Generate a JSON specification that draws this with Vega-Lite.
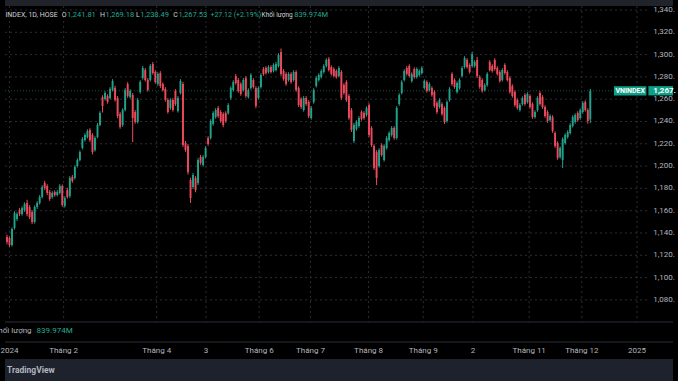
{
"$schema": "https://vega.github.io/schema/vega-lite/v6.json",
"width": 678, "height": 381, "padding": 0, "autosize": {"type": "none"},
"background": "#000000",
"config": {"view": {"stroke": null}, "axis": {"disable": true}, "text": {"font": "Roboto"}},
"data": {"values": [{}]},
"datasets": {
"candles": [
{"i":0,"o":1136.4,"h":1138.5,"l":1129.8,"c":1131.9},
{"i":1,"o":1135.5,"h":1137.0,"l":1127.5,"c":1129.2},
{"i":2,"o":1129.2,"h":1145.0,"l":1127.8,"c":1143.6},
{"i":3,"o":1144.5,"h":1159.5,"l":1143.0,"c":1157.9},
{"i":4,"o":1152.6,"h":1158.6,"l":1150.8,"c":1157.0},
{"i":5,"o":1160.6,"h":1162.5,"l":1155.2,"c":1157.0},
{"i":6,"o":1157.0,"h":1164.0,"l":1155.5,"c":1162.4},
{"i":7,"o":1160.6,"h":1167.5,"l":1159.0,"c":1166.0},
{"i":8,"o":1166.9,"h":1169.8,"l":1155.0,"c":1157.0},
{"i":9,"o":1163.3,"h":1165.0,"l":1152.5,"c":1154.3},
{"i":10,"o":1158.8,"h":1160.5,"l":1148.0,"c":1149.9},
{"i":11,"o":1149.9,"h":1164.8,"l":1148.5,"c":1163.3},
{"i":12,"o":1163.3,"h":1168.5,"l":1161.5,"c":1166.9},
{"i":13,"o":1166.9,"h":1174.0,"l":1165.5,"c":1172.3},
{"i":14,"o":1172.3,"h":1183.0,"l":1171.0,"c":1181.2},
{"i":15,"o":1184.8,"h":1186.8,"l":1178.5,"c":1180.4},
{"i":16,"o":1182.1,"h":1183.8,"l":1174.0,"c":1175.9},
{"i":17,"o":1176.8,"h":1178.5,"l":1168.8,"c":1170.5},
{"i":18,"o":1172.3,"h":1177.5,"l":1170.8,"c":1175.9},
{"i":19,"o":1176.8,"h":1178.3,"l":1172.5,"c":1174.1},
{"i":20,"o":1174.1,"h":1178.5,"l":1172.8,"c":1176.8},
{"i":21,"o":1175.9,"h":1183.8,"l":1174.5,"c":1182.1},
{"i":22,"o":1182.1,"h":1183.5,"l":1163.5,"c":1165.1},
{"i":23,"o":1164.2,"h":1173.0,"l":1162.8,"c":1171.4},
{"i":24,"o":1178.6,"h":1180.5,"l":1170.8,"c":1172.3},
{"i":25,"o":1173.2,"h":1191.0,"l":1171.5,"c":1189.3},
{"i":26,"o":1190.2,"h":1192.0,"l":1185.0,"c":1186.6},
{"i":27,"o":1189.3,"h":1200.8,"l":1188.0,"c":1199.2},
{"i":28,"o":1200.1,"h":1207.0,"l":1198.8,"c":1205.5},
{"i":29,"o":1205.5,"h":1214.0,"l":1204.2,"c":1212.6},
{"i":30,"o":1216.2,"h":1226.0,"l":1215.0,"c":1224.3},
{"i":31,"o":1223.4,"h":1229.5,"l":1222.0,"c":1227.9},
{"i":32,"o":1226.1,"h":1233.0,"l":1224.8,"c":1231.5},
{"i":33,"o":1232.4,"h":1234.0,"l":1221.5,"c":1223.4},
{"i":34,"o":1227.9,"h":1229.5,"l":1210.5,"c":1212.6},
{"i":35,"o":1214.4,"h":1226.8,"l":1213.0,"c":1225.2},
{"i":36,"o":1226.1,"h":1238.5,"l":1225.0,"c":1236.9},
{"i":37,"o":1236.9,"h":1249.2,"l":1235.8,"c":1247.6},
{"i":38,"o":1262.0,"h":1263.5,"l":1248.0,"c":1253.9},
{"i":39,"o":1260.2,"h":1267.2,"l":1258.8,"c":1265.6},
{"i":40,"o":1262.9,"h":1264.5,"l":1256.0,"c":1257.5},
{"i":41,"o":1261.1,"h":1270.8,"l":1259.8,"c":1269.2},
{"i":42,"o":1268.2,"h":1278.0,"l":1267.0,"c":1276.3},
{"i":43,"o":1270.0,"h":1272.0,"l":1257.8,"c":1259.3},
{"i":44,"o":1261.1,"h":1262.8,"l":1243.0,"c":1244.9},
{"i":45,"o":1246.7,"h":1248.5,"l":1233.5,"c":1235.1},
{"i":46,"o":1236.9,"h":1251.8,"l":1235.2,"c":1250.3},
{"i":47,"o":1250.3,"h":1270.0,"l":1249.0,"c":1268.2},
{"i":48,"o":1273.6,"h":1275.3,"l":1261.2,"c":1262.9},
{"i":49,"o":1262.0,"h":1269.0,"l":1260.5,"c":1267.4},
{"i":50,"o":1263.8,"h":1265.5,"l":1221.6,"c":1243.1},
{"i":51,"o":1248.5,"h":1250.2,"l":1238.0,"c":1239.6},
{"i":52,"o":1239.6,"h":1261.0,"l":1238.2,"c":1259.3},
{"i":53,"o":1266.5,"h":1277.0,"l":1265.0,"c":1275.4},
{"i":54,"o":1279.0,"h":1289.8,"l":1277.5,"c":1288.0},
{"i":55,"o":1286.2,"h":1288.0,"l":1275.8,"c":1277.2},
{"i":56,"o":1277.2,"h":1279.0,"l":1266.8,"c":1268.2},
{"i":57,"o":1277.2,"h":1291.5,"l":1275.8,"c":1289.8},
{"i":58,"o":1291.6,"h":1293.4,"l":1282.0,"c":1283.5},
{"i":59,"o":1284.4,"h":1286.0,"l":1273.8,"c":1275.4},
{"i":60,"o":1273.6,"h":1284.2,"l":1272.0,"c":1282.6},
{"i":61,"o":1283.5,"h":1285.2,"l":1270.0,"c":1271.8},
{"i":62,"o":1273.6,"h":1275.0,"l":1266.8,"c":1268.2},
{"i":63,"o":1269.2,"h":1270.8,"l":1257.8,"c":1259.3},
{"i":64,"o":1259.3,"h":1261.0,"l":1247.0,"c":1248.5},
{"i":65,"o":1252.1,"h":1260.8,"l":1250.5,"c":1259.3},
{"i":66,"o":1259.3,"h":1261.0,"l":1248.8,"c":1250.3},
{"i":67,"o":1267.4,"h":1269.0,"l":1254.0,"c":1255.7},
{"i":68,"o":1249.4,"h":1262.8,"l":1248.0,"c":1261.1},
{"i":69,"o":1265.6,"h":1278.0,"l":1264.2,"c":1276.3},
{"i":70,"o":1273.6,"h":1275.5,"l":1217.0,"c":1218.9},
{"i":71,"o":1220.7,"h":1222.5,"l":1212.8,"c":1214.4},
{"i":72,"o":1218.0,"h":1219.8,"l":1192.5,"c":1194.7},
{"i":73,"o":1187.5,"h":1189.5,"l":1166.9,"c":1171.4},
{"i":74,"o":1181.2,"h":1193.8,"l":1179.5,"c":1192.0},
{"i":75,"o":1189.3,"h":1191.0,"l":1176.5,"c":1178.6},
{"i":76,"o":1184.8,"h":1207.2,"l":1183.0,"c":1205.5},
{"i":77,"o":1208.2,"h":1210.0,"l":1201.2,"c":1202.8},
{"i":78,"o":1201.0,"h":1209.8,"l":1199.5,"c":1208.2},
{"i":79,"o":1208.2,"h":1217.8,"l":1206.8,"c":1216.2},
{"i":80,"o":1225.2,"h":1226.8,"l":1218.2,"c":1219.8},
{"i":81,"o":1225.2,"h":1242.0,"l":1223.8,"c":1240.4},
{"i":82,"o":1237.8,"h":1249.2,"l":1236.2,"c":1247.6},
{"i":83,"o":1244.0,"h":1252.0,"l":1242.5,"c":1250.3},
{"i":84,"o":1252.1,"h":1254.0,"l":1243.2,"c":1244.9},
{"i":85,"o":1248.5,"h":1250.2,"l":1238.8,"c":1240.4},
{"i":86,"o":1246.7,"h":1248.3,"l":1234.8,"c":1236.9},
{"i":87,"o":1247.6,"h":1249.2,"l":1238.8,"c":1240.4},
{"i":88,"o":1247.6,"h":1256.4,"l":1246.0,"c":1254.8},
{"i":89,"o":1261.1,"h":1271.6,"l":1259.5,"c":1270.0},
{"i":90,"o":1268.2,"h":1277.0,"l":1266.8,"c":1275.4},
{"i":91,"o":1280.8,"h":1282.5,"l":1273.0,"c":1274.5},
{"i":92,"o":1277.2,"h":1279.0,"l":1265.8,"c":1267.4},
{"i":93,"o":1273.6,"h":1275.2,"l":1263.0,"c":1264.7},
{"i":94,"o":1268.2,"h":1279.0,"l":1266.8,"c":1277.2},
{"i":95,"o":1279.0,"h":1280.8,"l":1261.2,"c":1262.9},
{"i":96,"o":1262.0,"h":1269.8,"l":1260.5,"c":1268.2},
{"i":97,"o":1270.0,"h":1283.3,"l":1268.5,"c":1281.7},
{"i":98,"o":1277.2,"h":1278.8,"l":1269.5,"c":1270.9},
{"i":99,"o":1270.0,"h":1271.6,"l":1252.0,"c":1253.9},
{"i":100,"o":1261.1,"h":1271.5,"l":1259.6,"c":1270.0},
{"i":101,"o":1270.9,"h":1283.2,"l":1269.5,"c":1281.7},
{"i":102,"o":1287.1,"h":1288.8,"l":1281.0,"c":1282.6},
{"i":103,"o":1288.0,"h":1289.6,"l":1282.0,"c":1283.5},
{"i":104,"o":1284.4,"h":1290.5,"l":1283.0,"c":1288.9},
{"i":105,"o":1288.9,"h":1290.4,"l":1283.0,"c":1284.4},
{"i":106,"o":1285.3,"h":1292.2,"l":1284.0,"c":1290.7},
{"i":107,"o":1286.2,"h":1293.4,"l":1284.8,"c":1291.6},
{"i":108,"o":1289.8,"h":1301.2,"l":1288.4,"c":1299.6},
{"i":109,"o":1302.3,"h":1305.5,"l":1281.0,"c":1282.6},
{"i":110,"o":1285.3,"h":1287.0,"l":1276.6,"c":1278.1},
{"i":111,"o":1282.6,"h":1284.2,"l":1272.0,"c":1273.6},
{"i":112,"o":1277.2,"h":1284.2,"l":1275.8,"c":1282.6},
{"i":113,"o":1282.6,"h":1284.2,"l":1273.8,"c":1275.4},
{"i":114,"o":1277.2,"h":1286.0,"l":1275.8,"c":1284.4},
{"i":115,"o":1284.4,"h":1286.0,"l":1266.6,"c":1268.2},
{"i":116,"o":1270.0,"h":1271.6,"l":1253.0,"c":1254.8},
{"i":117,"o":1260.2,"h":1261.8,"l":1251.2,"c":1253.0},
{"i":118,"o":1250.3,"h":1262.8,"l":1248.8,"c":1261.1},
{"i":119,"o":1261.1,"h":1262.8,"l":1254.0,"c":1255.7},
{"i":120,"o":1257.5,"h":1259.2,"l":1243.0,"c":1244.9},
{"i":121,"o":1243.1,"h":1253.8,"l":1241.6,"c":1252.1},
{"i":122,"o":1257.5,"h":1269.8,"l":1256.0,"c":1268.2},
{"i":123,"o":1271.8,"h":1280.6,"l":1270.4,"c":1279.0},
{"i":124,"o":1277.2,"h":1283.2,"l":1275.8,"c":1281.7},
{"i":125,"o":1279.9,"h":1286.8,"l":1278.5,"c":1285.3},
{"i":126,"o":1284.4,"h":1291.4,"l":1283.0,"c":1289.8},
{"i":127,"o":1289.8,"h":1296.8,"l":1288.4,"c":1295.2},
{"i":128,"o":1296.1,"h":1297.8,"l":1284.8,"c":1286.2},
{"i":129,"o":1288.9,"h":1290.4,"l":1281.2,"c":1282.6},
{"i":130,"o":1287.1,"h":1288.6,"l":1279.4,"c":1280.8},
{"i":131,"o":1285.3,"h":1286.8,"l":1278.4,"c":1279.9},
{"i":132,"o":1280.8,"h":1289.6,"l":1279.4,"c":1288.0},
{"i":133,"o":1284.4,"h":1286.0,"l":1259.5,"c":1261.1},
{"i":134,"o":1272.7,"h":1274.4,"l":1264.0,"c":1265.6},
{"i":135,"o":1275.4,"h":1277.0,"l":1257.6,"c":1259.3},
{"i":136,"o":1262.9,"h":1264.6,"l":1241.5,"c":1243.1},
{"i":137,"o":1250.3,"h":1252.0,"l":1230.6,"c":1232.4},
{"i":138,"o":1222.5,"h":1238.6,"l":1220.6,"c":1236.9},
{"i":139,"o":1233.3,"h":1241.2,"l":1231.8,"c":1239.6},
{"i":140,"o":1236.0,"h":1244.8,"l":1234.5,"c":1243.1},
{"i":141,"o":1248.5,"h":1250.0,"l":1240.8,"c":1242.2},
{"i":142,"o":1247.6,"h":1249.2,"l":1241.6,"c":1243.1},
{"i":143,"o":1245.8,"h":1253.6,"l":1244.4,"c":1252.1},
{"i":144,"o":1254.8,"h":1256.4,"l":1226.0,"c":1227.9},
{"i":145,"o":1234.2,"h":1235.8,"l":1217.2,"c":1218.9},
{"i":146,"o":1218.0,"h":1219.6,"l":1196.5,"c":1198.3},
{"i":147,"o":1212.6,"h":1214.2,"l":1183.0,"c":1189.3},
{"i":148,"o":1200.1,"h":1216.0,"l":1198.6,"c":1214.4},
{"i":149,"o":1218.9,"h":1220.4,"l":1208.4,"c":1209.9},
{"i":150,"o":1205.5,"h":1219.6,"l":1204.0,"c":1218.0},
{"i":151,"o":1216.2,"h":1226.8,"l":1214.8,"c":1225.2},
{"i":152,"o":1223.4,"h":1231.2,"l":1222.0,"c":1229.7},
{"i":153,"o":1227.9,"h":1235.8,"l":1226.4,"c":1234.2},
{"i":154,"o":1234.2,"h":1235.8,"l":1223.6,"c":1225.2},
{"i":155,"o":1225.2,"h":1253.8,"l":1223.8,"c":1252.1},
{"i":156,"o":1255.7,"h":1265.4,"l":1254.2,"c":1263.8},
{"i":157,"o":1265.6,"h":1277.0,"l":1264.2,"c":1275.4},
{"i":158,"o":1277.2,"h":1286.8,"l":1275.8,"c":1285.3},
{"i":159,"o":1288.0,"h":1289.6,"l":1281.2,"c":1282.6},
{"i":160,"o":1289.8,"h":1291.4,"l":1279.4,"c":1280.8},
{"i":161,"o":1276.3,"h":1284.2,"l":1274.8,"c":1282.6},
{"i":162,"o":1287.1,"h":1288.6,"l":1278.4,"c":1279.9},
{"i":163,"o":1279.9,"h":1288.6,"l":1278.4,"c":1287.1},
{"i":164,"o":1281.7,"h":1286.8,"l":1280.2,"c":1285.3},
{"i":165,"o":1283.5,"h":1289.6,"l":1282.0,"c":1288.0},
{"i":166,"o":1270.0,"h":1277.8,"l":1268.6,"c":1276.3},
{"i":167,"o":1275.4,"h":1277.0,"l":1265.8,"c":1267.4},
{"i":168,"o":1268.2,"h":1275.2,"l":1266.8,"c":1273.6},
{"i":169,"o":1270.0,"h":1271.6,"l":1262.2,"c":1263.8},
{"i":170,"o":1266.5,"h":1268.0,"l":1252.2,"c":1253.9},
{"i":171,"o":1256.6,"h":1258.2,"l":1246.8,"c":1248.5},
{"i":172,"o":1253.0,"h":1260.8,"l":1251.6,"c":1259.3},
{"i":173,"o":1255.7,"h":1257.2,"l":1245.2,"c":1246.7},
{"i":174,"o":1252.1,"h":1253.6,"l":1237.8,"c":1239.6},
{"i":175,"o":1240.4,"h":1259.0,"l":1239.0,"c":1257.5},
{"i":176,"o":1259.3,"h":1270.8,"l":1257.8,"c":1269.2},
{"i":177,"o":1282.6,"h":1284.2,"l":1272.0,"c":1273.6},
{"i":178,"o":1277.2,"h":1278.8,"l":1269.4,"c":1270.9},
{"i":179,"o":1266.5,"h":1276.0,"l":1265.0,"c":1274.5},
{"i":180,"o":1270.0,"h":1278.8,"l":1268.5,"c":1277.2},
{"i":181,"o":1280.8,"h":1289.6,"l":1279.4,"c":1288.0},
{"i":182,"o":1288.9,"h":1298.6,"l":1287.4,"c":1297.0},
{"i":183,"o":1295.2,"h":1296.8,"l":1287.4,"c":1288.9},
{"i":184,"o":1290.7,"h":1292.2,"l":1283.0,"c":1284.4},
{"i":185,"o":1289.8,"h":1302.4,"l":1288.4,"c":1300.5},
{"i":186,"o":1289.8,"h":1295.0,"l":1288.4,"c":1293.4},
{"i":187,"o":1295.2,"h":1298.0,"l":1279.0,"c":1280.8},
{"i":188,"o":1279.9,"h":1281.4,"l":1269.4,"c":1270.9},
{"i":189,"o":1277.2,"h":1278.8,"l":1265.8,"c":1267.4},
{"i":190,"o":1268.2,"h":1274.2,"l":1266.8,"c":1272.7},
{"i":191,"o":1272.7,"h":1284.2,"l":1271.2,"c":1282.6},
{"i":192,"o":1293.4,"h":1295.0,"l":1284.8,"c":1286.2},
{"i":193,"o":1289.8,"h":1291.4,"l":1283.8,"c":1285.3},
{"i":194,"o":1295.2,"h":1296.8,"l":1285.6,"c":1287.1},
{"i":195,"o":1288.0,"h":1289.6,"l":1281.2,"c":1282.6},
{"i":196,"o":1284.4,"h":1286.0,"l":1274.8,"c":1276.3},
{"i":197,"o":1277.2,"h":1287.8,"l":1275.8,"c":1286.2},
{"i":198,"o":1290.7,"h":1292.2,"l":1282.0,"c":1283.5},
{"i":199,"o":1284.4,"h":1286.0,"l":1275.8,"c":1277.2},
{"i":200,"o":1279.0,"h":1280.6,"l":1265.0,"c":1266.5},
{"i":201,"o":1271.8,"h":1273.4,"l":1261.4,"c":1262.9},
{"i":202,"o":1266.5,"h":1268.0,"l":1253.2,"c":1254.8},
{"i":203,"o":1259.3,"h":1260.8,"l":1250.6,"c":1252.1},
{"i":204,"o":1250.3,"h":1256.4,"l":1248.8,"c":1254.8},
{"i":205,"o":1255.7,"h":1262.6,"l":1254.2,"c":1261.1},
{"i":206,"o":1263.8,"h":1265.4,"l":1254.2,"c":1255.7},
{"i":207,"o":1257.5,"h":1266.2,"l":1256.0,"c":1264.7},
{"i":208,"o":1262.9,"h":1264.4,"l":1251.4,"c":1253.0},
{"i":209,"o":1255.7,"h":1257.2,"l":1242.4,"c":1244.0},
{"i":210,"o":1244.0,"h":1250.0,"l":1242.6,"c":1248.5},
{"i":211,"o":1250.3,"h":1262.6,"l":1248.8,"c":1261.1},
{"i":212,"o":1265.6,"h":1267.2,"l":1254.2,"c":1255.7},
{"i":213,"o":1262.0,"h":1263.6,"l":1251.4,"c":1253.0},
{"i":214,"o":1253.0,"h":1254.6,"l":1243.4,"c":1244.9},
{"i":215,"o":1248.5,"h":1250.0,"l":1238.8,"c":1240.4},
{"i":216,"o":1241.3,"h":1246.4,"l":1239.8,"c":1244.9},
{"i":217,"o":1244.0,"h":1245.6,"l":1229.8,"c":1231.5},
{"i":218,"o":1229.7,"h":1231.2,"l":1216.4,"c":1218.0},
{"i":219,"o":1220.7,"h":1222.2,"l":1205.6,"c":1207.3},
{"i":220,"o":1208.2,"h":1217.8,"l":1206.6,"c":1216.2},
{"i":221,"o":1205.5,"h":1225.8,"l":1198.3,"c":1224.3},
{"i":222,"o":1220.7,"h":1229.4,"l":1219.2,"c":1227.9},
{"i":223,"o":1226.1,"h":1232.2,"l":1224.6,"c":1230.6},
{"i":224,"o":1229.7,"h":1238.4,"l":1228.2,"c":1236.9},
{"i":225,"o":1236.0,"h":1245.6,"l":1234.6,"c":1244.0},
{"i":226,"o":1239.6,"h":1247.4,"l":1238.0,"c":1245.8},
{"i":227,"o":1247.6,"h":1249.2,"l":1239.8,"c":1241.3},
{"i":228,"o":1243.1,"h":1251.8,"l":1241.6,"c":1250.3},
{"i":229,"o":1248.5,"h":1258.2,"l":1247.0,"c":1256.6},
{"i":230,"o":1257.5,"h":1259.0,"l":1248.8,"c":1250.3},
{"i":231,"o":1250.3,"h":1251.8,"l":1238.0,"c":1240.41},
{"i":232,"o":1241.81,"h":1269.18,"l":1238.49,"c":1267.53}
],
"levels": [
{"lv":1340,"lbl":"1,340."},{"lv":1320,"lbl":"1,320."},{"lv":1300,"lbl":"1,300."},{"lv":1280,"lbl":"1,280."},
{"lv":1260,"lbl":"1,260."},{"lv":1240,"lbl":"1,240."},{"lv":1220,"lbl":"1,220."},{"lv":1200,"lbl":"1,200."},
{"lv":1180,"lbl":"1,180."},{"lv":1160,"lbl":"1,160."},{"lv":1140,"lbl":"1,140."},{"lv":1120,"lbl":"1,120."},
{"lv":1100,"lbl":"1,100."},{"lv":1080,"lbl":"1,080."}
],
"times": [
{"t":"2024","i":0.98},{"t":"Tháng 2","i":22.53},{"t":"Tháng 4","i":59.56},{"t":"3","i":79.15},
{"t":"Tháng 6","i":100.31},{"t":"Tháng 7","i":120.69},{"t":"Tháng 8","i":143.81},{"t":"Tháng 9","i":165.56},
{"t":"2","i":185.34},{"t":"Tháng 11","i":207.68},{"t":"Tháng 12","i":228.64},{"t":"2025","i":250.59}
]
},
"layer": [
{"data": {"name": "candles"},
 "mark": {"type": "rule", "strokeWidth": 1, "opacity": 0},
 "encoding": {
  "x": {"field": "i", "type": "quantitative", "scale": {"domain": [-0.784, 264.89], "nice": false, "zero": false}},
  "y": {"field": "l", "type": "quantitative", "scale": {"domain": [1007.25, 1348.97], "nice": false, "zero": false}},
  "y2": {"field": "h"}
 }},
{"mark": {"type": "rect", "color": "#202329"},
 "encoding": {"x": {"datum": -0.784}, "x2": {"datum": 264.89}, "y": {"datum": 1348.97}, "y2": {"datum": 1343.6}}},
{"data": {"name": "levels"},
 "mark": {"type": "rule", "color": "#2a2d35", "strokeWidth": 1, "strokeDash": [2, 3]},
 "encoding": {"y": {"field": "lv", "type": "quantitative"}, "x": {"datum": -0.784}, "x2": {"datum": 255.5}}},
{"data": {"name": "times"},
 "mark": {"type": "rule", "color": "#2a2d35", "strokeWidth": 1, "strokeDash": [2, 3]},
 "encoding": {"x": {"field": "i", "type": "quantitative"}, "y": {"datum": 1343.6}, "y2": {"datum": 1060.2}}},
{"mark": {"type": "rule", "color": "#2a2e39", "strokeWidth": 1},
 "encoding": {"y": {"datum": 1060.17}, "x": {"datum": -0.784}, "x2": {"datum": 264.89}}},
{"mark": {"type": "rule", "color": "#2a2e39", "strokeWidth": 1},
 "encoding": {"y": {"datum": 1042.2}, "x": {"datum": -0.784}, "x2": {"datum": 264.89}}},
{"mark": {"type": "rect", "color": "#1e222d"},
 "encoding": {"x": {"datum": -0.784}, "x2": {"datum": 264.89}, "y": {"datum": 1026.98}, "y2": {"datum": 1007.25}}},
{"mark": {"type": "rule", "color": "#1fa38b", "opacity": 0.5, "strokeWidth": 1, "strokeDash": [1, 2]},
 "encoding": {"y": {"datum": 1267.53}, "x": {"datum": -0.784}, "x2": {"datum": 241.4}}},
{"data": {"name": "candles"},
 "mark": {"type": "rule", "strokeWidth": 1},
 "encoding": {
  "x": {"field": "i", "type": "quantitative"},
  "y": {"field": "l", "type": "quantitative"},
  "y2": {"field": "h"},
  "color": {"condition": {"test": "datum.c >= datum.o", "value": "#1fa38b"}, "value": "#ee4a5d"}
 }},
{"data": {"name": "candles"},
 "mark": {"type": "bar", "orient": "vertical", "size": 1.9},
 "encoding": {
  "x": {"field": "i", "type": "quantitative"},
  "y": {"field": "o", "type": "quantitative"},
  "y2": {"field": "c"},
  "color": {"condition": {"test": "datum.c >= datum.o", "value": "#1fa38b"}, "value": "#ee4a5d"}
 }},
{"data": {"name": "levels"},
 "mark": {"type": "text", "align": "left", "baseline": "middle", "fontSize": 8, "color": "#b2b5be"},
 "encoding": {"y": {"field": "lv", "type": "quantitative"}, "x": {"datum": 257.05}, "text": {"field": "lbl"}}},
{"mark": {"type": "rect", "color": "#0f9f87"},
 "encoding": {"x": {"datum": 241.4}, "x2": {"datum": 254.3}, "y": {"datum": 1271.7}, "y2": {"datum": 1263.4}}},
{"mark": {"type": "rect", "color": "#0f9f87"},
 "encoding": {"x": {"datum": 255.1}, "x2": {"datum": 264.89}, "y": {"datum": 1271.7}, "y2": {"datum": 1263.4}}},
{"mark": {"type": "text", "text": "VNINDEX", "align": "center", "baseline": "middle", "fontSize": 7, "fontWeight": "bold", "color": "#ffffff"},
 "encoding": {"x": {"datum": 247.85}, "y": {"datum": 1267.53}}},
{"mark": {"type": "text", "text": "1,267.", "align": "left", "baseline": "middle", "fontSize": 8, "fontWeight": "bold", "color": "#ffffff"},
 "encoding": {"x": {"datum": 257.05}, "y": {"datum": 1267.53}}},
{"data": {"name": "times"},
 "mark": {"type": "text", "align": "center", "baseline": "middle", "fontSize": 8, "color": "#b2b5be"},
 "encoding": {"x": {"field": "i", "type": "quantitative"}, "y": {"datum": 1034.4}, "text": {"field": "t"}}},
{"mark": {"type": "text", "text": "INDEX, 1D, HOSE", "align": "left", "baseline": "middle", "fontSize": 7, "color": "#d1d4dc"},
 "encoding": {"x": {"datum": -0.6}, "y": {"datum": 1335.5}}},
{"mark": {"type": "text", "text": "O", "align": "right", "baseline": "middle", "fontSize": 7, "color": "#d1d4dc"},
 "encoding": {"x": {"datum": 23.71}, "y": {"datum": 1335.5}}},
{"mark": {"type": "text", "text": "1,241.81", "align": "left", "baseline": "middle", "fontSize": 7.5, "color": "#22ab94"},
 "encoding": {"x": {"datum": 23.9}, "y": {"datum": 1335.5}}},
{"mark": {"type": "text", "text": "H", "align": "right", "baseline": "middle", "fontSize": 7, "color": "#d1d4dc"},
 "encoding": {"x": {"datum": 38.99}, "y": {"datum": 1335.5}}},
{"mark": {"type": "text", "text": "1,269.18", "align": "left", "baseline": "middle", "fontSize": 7.5, "color": "#22ab94"},
 "encoding": {"x": {"datum": 39.18}, "y": {"datum": 1335.5}}},
{"mark": {"type": "text", "text": "L", "align": "right", "baseline": "middle", "fontSize": 7, "color": "#d1d4dc"},
 "encoding": {"x": {"datum": 52.82}, "y": {"datum": 1335.5}}},
{"mark": {"type": "text", "text": "1,238.49", "align": "left", "baseline": "middle", "fontSize": 7.5, "color": "#22ab94"},
 "encoding": {"x": {"datum": 53.0}, "y": {"datum": 1335.5}}},
{"mark": {"type": "text", "text": "C", "align": "right", "baseline": "middle", "fontSize": 7, "color": "#d1d4dc"},
 "encoding": {"x": {"datum": 67.99}, "y": {"datum": 1335.5}}},
{"mark": {"type": "text", "text": "1,267.53", "align": "left", "baseline": "middle", "fontSize": 7.5, "color": "#22ab94"},
 "encoding": {"x": {"datum": 68.18}, "y": {"datum": 1335.5}}},
{"mark": {"type": "text", "text": "+27.12 (+2.19%)", "align": "left", "baseline": "middle", "fontSize": 7, "color": "#22ab94"},
 "encoding": {"x": {"datum": 80.92}, "y": {"datum": 1335.5}}},
{"mark": {"type": "text", "text": "Khối lượng", "align": "right", "baseline": "middle", "fontSize": 6.5, "color": "#d1d4dc"},
 "encoding": {"x": {"datum": 113.64}, "y": {"datum": 1335.5}}},
{"mark": {"type": "text", "text": "839.974M", "align": "left", "baseline": "middle", "fontSize": 7.5, "color": "#22ab94"},
 "encoding": {"x": {"datum": 114.22}, "y": {"datum": 1335.5}}},
{"mark": {"type": "text", "text": "Khối lượng", "align": "right", "baseline": "middle", "fontSize": 8, "color": "#b2b5be"},
 "encoding": {"x": {"datum": 9.8}, "y": {"datum": 1052.1}}},
{"mark": {"type": "text", "text": "839.974M", "align": "left", "baseline": "middle", "fontSize": 8, "color": "#22ab94"},
 "encoding": {"x": {"datum": 11.76}, "y": {"datum": 1052.1}}},
{"mark": {"type": "text", "text": "TradingView", "align": "left", "baseline": "middle", "fontSize": 8.5, "fontWeight": "bold", "color": "#b2b5be"},
 "encoding": {"x": {"datum": 0.0}, "y": {"datum": 1017.1}}}
]
}
